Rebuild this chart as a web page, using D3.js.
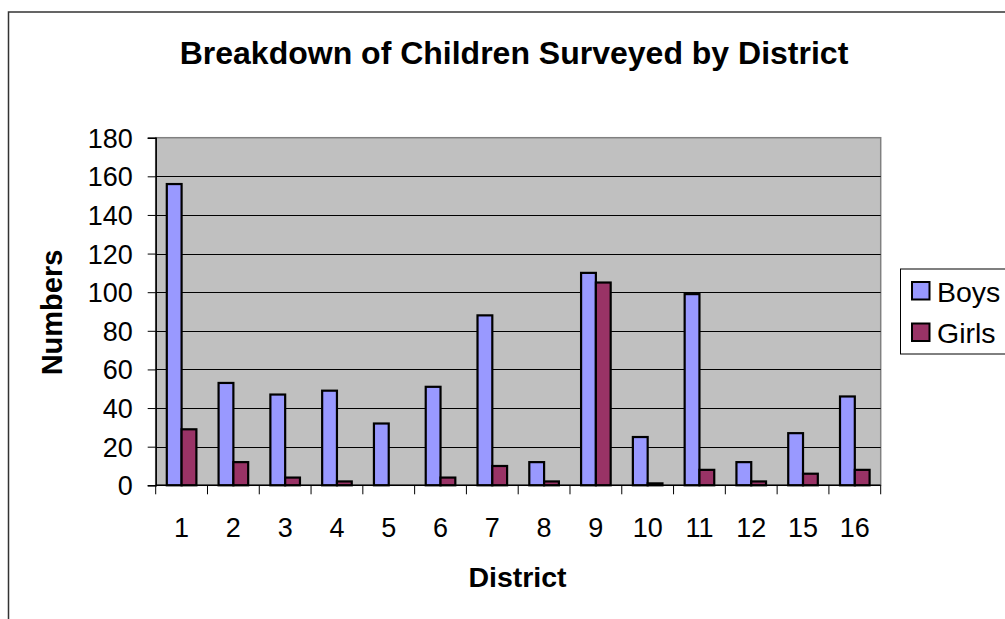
<!DOCTYPE html>
<html>
<head>
<meta charset="utf-8">
<script src="https://cdn.jsdelivr.net/npm/d3@7"></script>
<style>
  body { margin: 0; background: #fff; }
  text { font-family: "Liberation Sans", Arial, sans-serif; fill: #000; }
</style>
</head>
<body>
<div id="chart"></div>
<script>
var districts = ["1", "2", "3", "4", "5", "6", "7", "8", "9", "10", "11", "12", "15", "16"];
var boys  = [156, 53, 47, 49, 32, 51, 88, 12, 110, 25, 99, 12, 27, 46];
var girls = [29, 12, 4, 2, 0, 4, 10, 2, 105, 1, 8, 2, 6, 8];
var seriesNames = ["Boys", "Girls"];
var seriesColors = ["#9999FF", "#993366"];
var yTicks = [0, 20, 40, 60, 80, 100, 120, 140, 160, 180];

var width = 1005, height = 619;
var plot = {left: 155.7, right: 880.7, top: 137.7, bottom: 485.3};

var svg = d3.select("#chart").append("svg")
  .attr("width", width)
  .attr("height", height);

// outer chart frame (runs off the right and bottom edges)
svg.append("rect")
  .attr("x", 8.5).attr("y", 12)
  .attr("width", 1100).attr("height", 700)
  .attr("fill", "none")
  .attr("stroke", "#333")
  .attr("stroke-width", 1.5);

var x = d3.scaleBand()
  .domain(districts)
  .range([plot.left, plot.right]);

var barW = x.bandwidth() / 3.5;   // gap width 150%
var x1 = d3.scaleBand()
  .domain(seriesNames)
  .range([0, barW * 2]);

var y = d3.scaleLinear()
  .domain([0, 180])
  .range([plot.bottom, plot.top]);

// plot area
svg.append("rect")
  .attr("x", plot.left).attr("y", plot.top)
  .attr("width", plot.right - plot.left)
  .attr("height", plot.bottom - plot.top)
  .attr("fill", "#C0C0C0")
  .attr("stroke", "#808080")
  .attr("stroke-width", 1.5);

// gridlines
svg.append("g")
  .selectAll("line")
  .data(yTicks.filter(d => d > 0 && d < 180))
  .enter().append("line")
  .attr("x1", plot.left).attr("x2", plot.right)
  .attr("y1", d => Math.round(y(d)) + 0.5)
  .attr("y2", d => Math.round(y(d)) + 0.5)
  .attr("stroke", "#000")
  .attr("stroke-width", 1);

// bars
var rows = districts.map(function(d, i) {
  return {district: d, values: [{k: "Boys", v: boys[i]}, {k: "Girls", v: girls[i]}]};
});

var groups = svg.append("g").selectAll("g")
  .data(rows)
  .enter().append("g")
  .attr("transform", d => "translate(" + (x(d.district) + (x.bandwidth() - barW * 2) / 2) + ",0)");

groups.selectAll("rect")
  .data(d => d.values.filter(v => v.v > 0))
  .enter().append("rect")
  .attr("x", d => x1(d.k))
  .attr("width", x1.bandwidth())
  .attr("y", d => y(d.v))
  .attr("height", d => y(0) - y(d.v))
  .attr("fill", (d) => seriesColors[seriesNames.indexOf(d.k)])
  .attr("stroke", "#000")
  .attr("stroke-width", 2.2);

// y axis
var yAxis = svg.append("g")
  .attr("transform", "translate(" + plot.left + ",0)")
  .call(d3.axisLeft(y).tickValues(yTicks).tickSize(8).tickPadding(15));
yAxis.select(".domain").attr("stroke", "#000").attr("stroke-width", 1.5);
yAxis.selectAll(".tick line").attr("stroke", "#000");
yAxis.selectAll(".tick text")
  .style("font-family", "'Liberation Sans', Arial, sans-serif")
  .style("font-size", "27px")
  .attr("fill", "#000")
  .attr("dy", "0.35em");

// x axis: ticks at band boundaries
var xAxis = svg.append("g")
  .attr("transform", "translate(0," + plot.bottom + ")");
xAxis.append("line")
  .attr("x1", plot.left).attr("x2", plot.right)
  .attr("stroke", "#000").attr("stroke-width", 1.5);
xAxis.selectAll("line.tk")
  .data(districts.map(d => x(d)).concat([plot.right]))
  .enter().append("line")
  .attr("class", "tk")
  .attr("x1", d => d).attr("x2", d => d)
  .attr("y1", 0).attr("y2", 9)
  .attr("stroke", "#000");
xAxis.selectAll("text")
  .data(districts)
  .enter().append("text")
  .attr("x", d => x(d) + x.bandwidth() / 2)
  .attr("y", 51.5)
  .attr("text-anchor", "middle")
  .style("font-size", "27px")
  .text(d => d);

// titles
svg.append("text")
  .attr("x", 514).attr("y", 64)
  .attr("text-anchor", "middle")
  .style("font-size", "32px")
  .style("font-weight", "bold")
  .text("Breakdown of Children Surveyed by District");

svg.append("text")
  .attr("x", 517.5).attr("y", 587)
  .attr("text-anchor", "middle")
  .style("font-size", "28.5px")
  .style("font-weight", "bold")
  .text("District");

svg.append("text")
  .attr("transform", "translate(62,312.5) rotate(-90)")
  .attr("text-anchor", "middle")
  .style("font-size", "29px")
  .style("font-weight", "bold")
  .text("Numbers");

// legend
var legend = svg.append("g");
legend.append("rect")
  .attr("x", 900.5).attr("y", 269)
  .attr("width", 200).attr("height", 85)
  .attr("fill", "#fff")
  .attr("stroke", "#000")
  .attr("stroke-width", 1);

var items = legend.selectAll("g.item")
  .data(seriesNames)
  .enter().append("g")
  .attr("class", "item")
  .attr("transform", (d, i) => "translate(0," + (i * 41.5) + ")");
items.append("rect")
  .attr("x", 912).attr("y", 282)
  .attr("width", 17.5).attr("height", 17.5)
  .attr("fill", (d, i) => seriesColors[i])
  .attr("stroke", "#000")
  .attr("stroke-width", 2);
items.append("text")
  .attr("x", 937).attr("y", 301.5)
  .style("font-size", "28.5px")
  .text(d => d);
</script>
</body>
</html>
